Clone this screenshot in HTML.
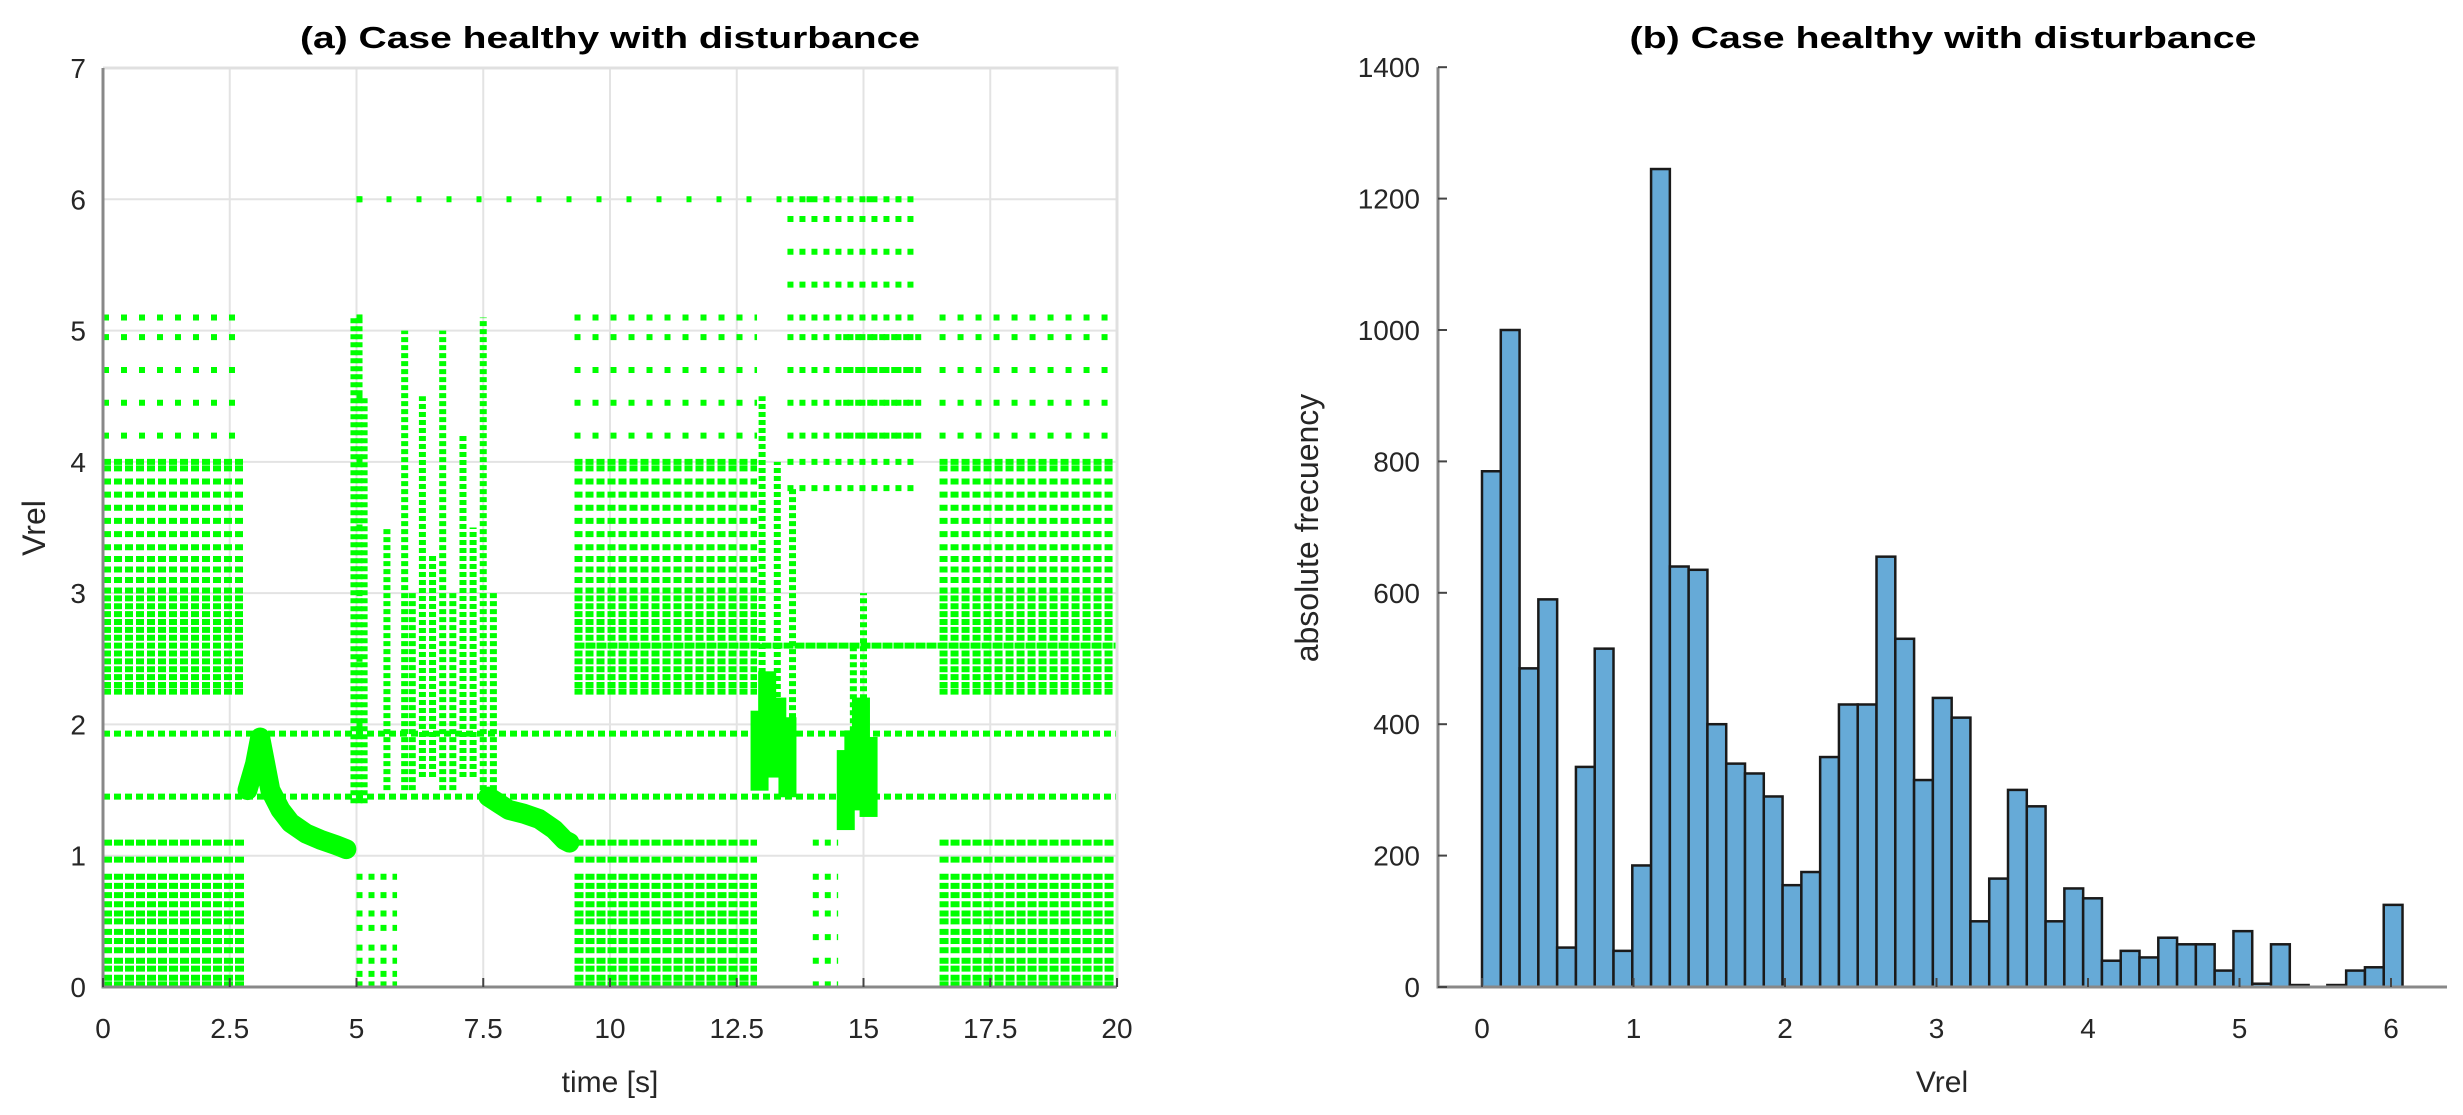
<!DOCTYPE html>
<html><head><meta charset="utf-8"><style>
html,body{margin:0;padding:0;background:#fff;}
svg{display:block;font-family:"Liberation Sans",Arial,sans-serif;}
</style></head><body>
<svg id="fig" width="2463" height="1115" viewBox="0 0 2463 1115" xmlns="http://www.w3.org/2000/svg">
<g id="left"></g>
<g id="right"></g>
</svg>
<script>
// ---------- Scatter data (panel a) ----------
const xTicksA = [0, 2.5, 5, 7.5, 10, 12.5, 15, 17.5, 20];
const xTickLabelsA = ["0","2.5","5","7.5","10","12.5","15","17.5","20"];
const yTicksA = [0,1,2,3,4,5,6,7];
const denseStart = [0, 9.3, 16.5];
const denseEnd = [2.8, 12.9, 20];
const lowLevels = [0.02,0.07,0.14,0.2,0.28,0.35,0.42,0.5,0.56,0.63,0.7,0.77,0.84,0.97,1.1];
const highLevels = [2.25,2.3,2.36,2.42,2.48,2.54,2.6,2.66,2.72,2.78,2.84,2.9,2.96,3.02,3.1,3.18,3.26,3.35,3.45,3.55,3.65,3.75,3.85,3.95,4.0];
const sparseHighLevels = [4.2,4.45,4.7,4.95,5.1];
const extraStart = [5.0, 14.0, 13.5, 14.6, 5.0];
const extraEnd = [5.8, 14.5, 16.0, 16.2, 5.2];
const extraLevels = [[0.02,0.1,0.2,0.3,0.45,0.56,0.7,0.84],[0.02,0.2,0.38,0.56,0.7,0.84,1.1],[3.8,4.0,4.2,4.45,4.7,4.95,5.1,5.35,5.6,5.85,6.0],[4.2,4.45,4.7,4.95],[2.0,2.5,3.0,3.5,4.0,4.5,5.1,6.0]];
const rowLevels = [1.45, 1.93, 2.6, 6.0];
const rowStart = [0, 0, 9.3, 5.0];
const rowEnd = [20, 20, 20, 16.2];
const stripeT = [4.95, 5.05, 5.15, 5.6, 5.95, 6.1, 6.3, 6.5, 6.7, 6.9, 7.1, 7.3, 7.5, 7.7, 13.0, 13.3, 13.6, 14.8, 15.0];
const stripeLo = [1.4, 1.4, 1.4, 1.5, 1.5, 1.5, 1.6, 1.6, 1.5, 1.5, 1.6, 1.6, 1.5, 1.5, 1.6, 1.6, 1.5, 1.4, 1.4];
const stripeHi = [5.1, 5.1, 4.5, 3.5, 5.0, 3.0, 4.5, 3.3, 5.0, 3.0, 4.2, 3.5, 5.1, 3.0, 4.5, 4.0, 3.8, 2.6, 3.0];
const decay1T = [2.85,3.0,3.1,3.2,3.3,3.5,3.7,4.0,4.3,4.6,4.8];
const decay1V = [1.5,1.7,1.9,1.7,1.5,1.35,1.25,1.17,1.12,1.08,1.05];
const decay2T = [7.6,7.8,8.0,8.3,8.6,8.9,9.1,9.2];
const decay2V = [1.45,1.4,1.35,1.32,1.28,1.2,1.12,1.1];
const clumpT = [12.95,13.1,13.3,13.5,14.65,14.8,14.95,15.1];
const clumpV = [1.8,2.1,1.9,1.75,1.5,1.65,1.9,1.6];

// ---------- Histogram data (panel b) ----------
const histCounts = [785,1000,485,590,60,335,515,55,185,1245,640,635,400,340,325,290,155,175,350,430,430,655,530,315,440,410,100,165,300,275,100,150,135,40,55,45,75,65,65,25,85,5,65,3,0,3,25,30,125];
const binWidth = 0.124;
const xTicksB = [0,1,2,3,4,5,6];
const yTicksB = [0,200,400,600,800,1000,1200,1400];

const NS="http://www.w3.org/2000/svg";
function mk(tag, attrs, parent, text){
  const e=document.createElementNS(NS,tag);
  for(const k in attrs) e.setAttribute(k,attrs[k]);
  if(text!==undefined) e.textContent=text;
  parent.appendChild(e); return e;
}
const L=document.getElementById('left'), R=document.getElementById('right');

const ax0=103, ax1=1117, ay0=987, ay1=68;
const xA=t=>ax0+(t-0)/20*(ax1-ax0);
const yA=v=>ay0-(v/7)*(ay0-ay1);

xTicksA.forEach(t=>{
  const g=mk('line',{x1:xA(t),x2:xA(t),y1:ay1,y2:ay0,stroke:'#e3e3e3','stroke-width':2},L);
  
  
});
yTicksA.forEach(v=>{
  const g=mk('line',{x1:ax0,x2:ax1,y1:yA(v),y2:yA(v),stroke:'#e3e3e3','stroke-width':2},L);
  
  
});
const pts=mk('g',{},L);


function row(t0,t1,v,dash){
  const l=mk('line',{x1:xA(t0),x2:xA(t1),y1:yA(v),y2:yA(v),stroke:'#00ff00','stroke-width':6,'stroke-dasharray':dash},pts);
  
  
}
denseStart.forEach((s,i)=>{
  lowLevels.forEach(v=>row(s,denseEnd[i],v,'9 2'));
  highLevels.forEach(v=>row(s,denseEnd[i],v,'8 3'));
  sparseHighLevels.forEach(v=>row(s,denseEnd[i],v,'6 12'));
});
extraStart.forEach((s,i)=>{
  extraLevels[i].forEach(v=>row(s,extraEnd[i],v,'6 6'));
});
rowLevels.forEach((v,i)=>row(rowStart[i],rowEnd[i],v, i===2?'10 1':(i===3?'5 25':'7 4')));
stripeT.forEach((t,i)=>{
  const l=mk('line',{x1:xA(t),x2:xA(t),y1:yA(stripeLo[i]),y2:yA(stripeHi[i]),stroke:'#00ff00','stroke-width':7,'stroke-dasharray':'5 3'},pts);
  
  
});
function curve(T,V,name){
  const d=T.map((t,i)=>(i?'L':'M')+xA(t)+' '+yA(V[i])).join(' ');
  const p=mk('path',{d:d,fill:'none',stroke:'#00ff00','stroke-width':20,'stroke-linejoin':'round','stroke-linecap':'round'},pts);
  
  
}
curve(decay1T,decay1V,'decay-cluster-1');
curve(decay2T,decay2V,'decay-cluster-2');
clumpT.forEach((t,i)=>{
  const c=mk('rect',{x:xA(t)-9,y:yA(clumpV[i])-40,width:18,height:80,fill:'#00ff00'},pts);
  
  
});
const box=mk('path',{d:`M${ax0} ${ay1} H${ax1} V${ay0}`,fill:'none',stroke:'#e0e0e0','stroke-width':3},L);


const axl=mk('path',{d:`M${ax0} ${ay1} V${ay0} H${ax1}`,fill:'none',stroke:'#888','stroke-width':3},L);


xTicksA.forEach((t,i)=>{
  mk('line',{x1:xA(t),x2:xA(t),y1:ay0,y2:ay0-9,stroke:'#444','stroke-width':2},L);
  const tx=mk('text',{x:xA(t),y:1038,'text-anchor':'middle','font-size':28,fill:'#262626'},L,xTickLabelsA[i]);
  
  
});
yTicksA.forEach(v=>{
  const tx=mk('text',{x:86,y:yA(v)+10,'text-anchor':'end','font-size':28,fill:'#262626'},L,String(v));
  
  
});
let t=mk('text',{x:610,y:1092,'text-anchor':'middle','font-size':30,fill:'#262626'},L,'time [s]');


t=mk('text',{x:0,y:0,'text-anchor':'middle','font-size':32,fill:'#262626',transform:'translate(45,528) rotate(-90)'},L,'Vrel');


t=mk('text',{x:610,y:48,'text-anchor':'middle','font-size':31,'font-weight':'bold',fill:'#000',textLength:620,lengthAdjust:'spacingAndGlyphs'},L,'(a) Case healthy with disturbance');



// ---------- Panel b ----------
const bx0=1482, bpx=151.5, by0=987, bpy=0.657, bAxL=1438, bAxR=2447;
const xB=v=>bx0+v*bpx;
const yB=c=>by0-c*bpy;
histCounts.forEach((c,i)=>{
  const r=mk('rect',{x:xB(i*binWidth),y:yB(c),width:binWidth*bpx,height:c*bpy,fill:'#66aad7',stroke:'#1a1a1a','stroke-width':2.5},R);
  
  
});
const bax=mk('path',{d:`M${bAxL} ${yB(1400)} V${by0} H${bAxR}`,fill:'none',stroke:'#888','stroke-width':3},R);


xTicksB.forEach(v=>{
  mk('line',{x1:xB(v),x2:xB(v),y1:by0,y2:by0-9,stroke:'#444','stroke-width':2},R);
  const tx=mk('text',{x:xB(v),y:1038,'text-anchor':'middle','font-size':28,fill:'#262626'},R,String(v));
  
  
});
yTicksB.forEach(v=>{
  mk('line',{x1:bAxL,x2:bAxL+9,y1:yB(v),y2:yB(v),stroke:'#444','stroke-width':2},R);
  const tx=mk('text',{x:1420,y:yB(v)+10,'text-anchor':'end','font-size':28,fill:'#262626'},R,String(v));
  
  
});
t=mk('text',{x:1942,y:1092,'text-anchor':'middle','font-size':30,fill:'#262626'},R,'Vrel');


t=mk('text',{x:0,y:0,'text-anchor':'middle','font-size':32,fill:'#262626',transform:'translate(1318,528) rotate(-90)'},R,'absolute frecuency');


t=mk('text',{x:1943,y:48,'text-anchor':'middle','font-size':31,'font-weight':'bold',fill:'#000',textLength:627,lengthAdjust:'spacingAndGlyphs'},R,'(b) Case healthy with disturbance');


</script>
</body></html>
